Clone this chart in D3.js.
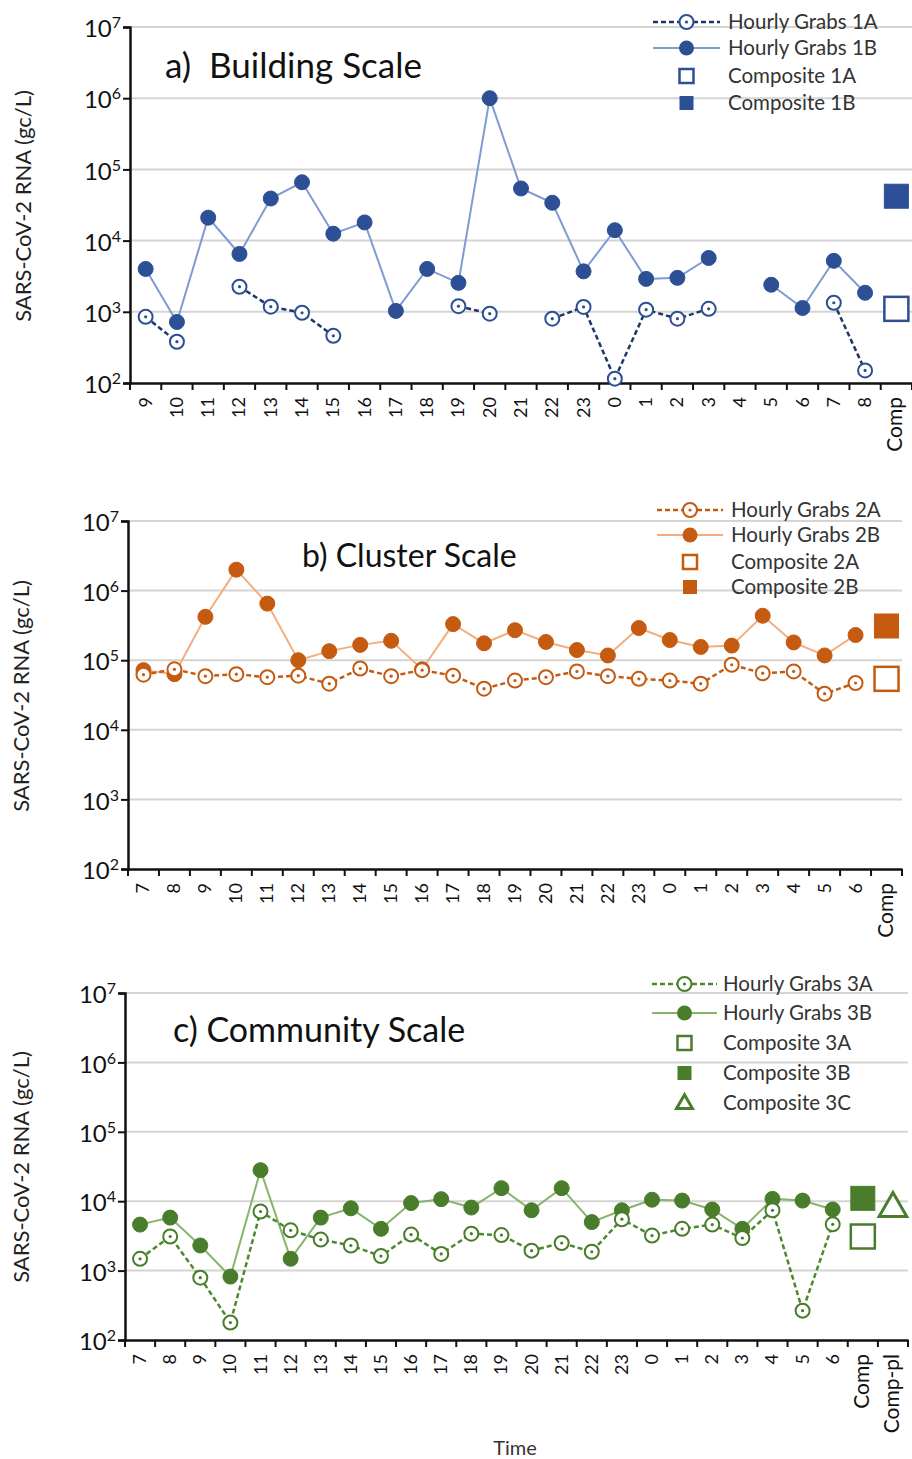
<!DOCTYPE html>
<html><head><meta charset="utf-8">
<script src="https://cdn.jsdelivr.net/npm/d3@7"></script>
<style>
html,body{margin:0;padding:0;background:#fff;}
svg{display:block;font-family:Lato,"Open Sans",sans-serif;}
</style></head>
<body><svg id="chart" width="912" height="1459"></svg>
<script>
// ---------- DATA ----------
const yTicks = [1e2, 1e3, 1e4, 1e5, 1e6, 1e7];

const catsA = ["9","10","11","12","13","14","15","16","17","18","19","20","21","22","23","0","1","2","3","4","5","6","7","8","Comp"];
const grabs1A = [850,380,null,2250,1180,970,460,null,null,null,1200,940,null,800,1170,115,1070,800,1100,null,null,null,1340,150];
const grabs1B = [4000,720,21000,6500,39000,66000,12500,18000,1030,4000,2550,1000000,54000,34000,3700,14000,2900,3000,5700,null,2400,1130,5200,1850];
const comp1A = 1100;
const comp1B = 42000;

const catsB = ["7","8","9","10","11","12","13","14","15","16","17","18","19","20","21","22","23","0","1","2","3","4","5","6","Comp"];
const grabs2A = [62000,74000,59000,63000,57000,60000,46000,76000,59000,72000,60000,39000,51000,57000,69000,59000,54000,51000,46000,86000,65000,69000,33000,47000];
const grabs2B = [72000,63000,420000,2000000,650000,100000,135000,166000,190000,74000,330000,175000,270000,183000,140000,117000,290000,195000,155000,162000,435000,180000,117000,230000];
const comp2A = 54000;
const comp2B = 310000;

const catsC = ["7","8","9","10","11","12","13","14","15","16","17","18","19","20","21","22","23","0","1","2","3","4","5","6","Comp","Comp-pl"];
const grabs3A = [1480,3100,790,178,7100,3800,2800,2300,1620,3300,1740,3400,3250,1940,2500,1870,5500,3200,4000,4600,2950,7400,265,4650];
const grabs3B = [4600,5800,2300,820,28000,1480,5800,7900,4000,9400,10700,8100,15400,7400,15400,5000,7400,10500,10200,7600,4000,10800,10200,7600];
const comp3A = 3100;
const comp3B = 11000;
const comp3C = 8400;

const legendA = ["Hourly Grabs 1A","Hourly Grabs 1B","Composite 1A","Composite 1B"];
const legendB = ["Hourly Grabs 2A","Hourly Grabs 2B","Composite 2A","Composite 2B"];
const legendC = ["Hourly Grabs 3A","Hourly Grabs 3B","Composite 3A","Composite 3B","Composite 3C"];

// ---------- DRAW ----------
const svg = d3.select("#chart");
const FONT = 'Lato,"Open Sans",sans-serif';

function drawPanel(cfg){
  const g = svg.append("g");
  const x = d3.scaleBand().domain(cfg.cats).range([cfg.left, cfg.right]).padding(0);
  const y = d3.scaleLog().domain([1e2,1e7]).range([cfg.bottom, cfg.top]);
  const cx = c => x(c) + x.bandwidth()/2;

  // gridlines
  g.selectAll("line.grid").data(yTicks.slice(1)).join("line")
    .attr("x1", cfg.left).attr("x2", cfg.gridRight)
    .attr("y1", d=>y(d)).attr("y2", d=>y(d))
    .attr("stroke", "#d4d4d4").attr("stroke-width", 2);

  // y axis
  const ya = g.append("g").attr("transform", `translate(${cfg.left},0)`)
    .call(d3.axisLeft(y).tickValues(yTicks).tickSize(7).tickFormat(""));
  ya.select(".domain").attr("stroke","#111").attr("stroke-width",2.5);
  ya.selectAll(".tick line").attr("stroke","#111").attr("stroke-width",2);
  ya.selectAll(".tick").each(function(d){
    const t = d3.select(this).append("text")
      .attr("x", -9).attr("y", 0).attr("dy","0.4em")
      .attr("text-anchor","end").attr("fill","#111")
      .style("font-family", FONT).style("font-size","24px");
    t.append("tspan").text("10");
    t.append("tspan").text(Math.round(Math.log10(d))).attr("dy","-9").style("font-size","16px");
  });

  // x axis
  const xa = g.append("g").attr("transform", `translate(0,${cfg.bottom})`)
    .call(d3.axisBottom(x).tickSize(0).tickFormat(""));
  xa.select(".domain").attr("stroke","#111").attr("stroke-width",2.5);
  const bounds = cfg.cats.map(c=>x(c)).concat([cfg.right]);
  g.selectAll("line.xt").data(bounds).join("line")
    .attr("x1", d=>d).attr("x2", d=>d)
    .attr("y1", cfg.bottom).attr("y2", cfg.bottom+7)
    .attr("stroke","#111").attr("stroke-width",2);
  g.selectAll("text.xl").data(cfg.cats).join("text")
    .attr("transform", d=>`translate(${cx(d)+6},${cfg.bottom+14}) rotate(-90)`)
    .attr("text-anchor","end").attr("fill","#111")
    .style("font-family", FONT).style("font-size", d=> d.length > 2 ? "21px" : "18px")
    .text(d=>d);

  // y axis title
  g.append("text")
    .attr("transform", `translate(${cfg.yTitleX},${cfg.yTitleY}) rotate(-90)`)
    .attr("text-anchor","middle").attr("fill","#222")
    .style("font-family", FONT).style("font-size","22px")
    .text("SARS-CoV-2 RNA (gc/L)");

  // panel title
  g.append("text").attr("x", cfg.titleX).attr("y", cfg.titleY)
    .attr("fill","#111").style("font-family", FONT).style("font-size", cfg.titleSize)
    .attr("xml:space","preserve").style("white-space","pre")
    .text(cfg.title);

  const hourCats = cfg.cats.slice(0, cfg.gA.length);
  const ptsA = cfg.gA.map((v,i)=>({c:hourCats[i], v}));
  const ptsB = cfg.gB.map((v,i)=>({c:hourCats[i], v}));
  const line = d3.line().defined(d=>d.v!=null).x(d=>cx(d.c)).y(d=>y(d.v));

  // B line (solid, light)
  g.append("path").datum(ptsB).attr("d", line)
    .attr("fill","none").attr("stroke", cfg.lightCol).attr("stroke-width", 2);
  // A line (dashed)
  g.append("path").datum(ptsA).attr("d", line)
    .attr("fill","none").attr("stroke", cfg.dashCol).attr("stroke-width", 2.5)
    .attr("stroke-dasharray","5,3");

  // B markers
  g.selectAll("circle.b").data(ptsB.filter(d=>d.v!=null)).join("circle")
    .attr("cx", d=>cx(d.c)).attr("cy", d=>y(d.v)).attr("r", 7.5)
    .attr("fill", cfg.col).attr("stroke", cfg.col).attr("stroke-width", 1);
  // A markers
  const am = g.selectAll("g.a").data(ptsA.filter(d=>d.v!=null)).join("g")
    .attr("transform", d=>`translate(${cx(d.c)},${y(d.v)})`);
  am.append("circle").attr("r", 7).attr("fill","#fff").attr("stroke", cfg.col).attr("stroke-width", 2);
  am.append("circle").attr("r", 1.6).attr("fill", cfg.col);

  // composites
  const sq = 24;
  const compX = cx("Comp");
  g.append("rect").attr("x", compX - sq/2).attr("y", y(cfg.compA) - sq/2)
    .attr("width", sq).attr("height", sq)
    .attr("fill","#fff").attr("stroke", cfg.col).attr("stroke-width", 2.5);
  g.append("rect").attr("x", compX - sq/2).attr("y", y(cfg.compB) - sq/2)
    .attr("width", sq).attr("height", sq)
    .attr("fill", cfg.col).attr("stroke", cfg.col).attr("stroke-width", 1);
  if (cfg.compC != null){
    const tx = cx("Comp-pl"), ty = y(cfg.compC);
    g.append("path").attr("d", d3.symbol(d3.symbolTriangle, 330)())
      .attr("transform", `translate(${tx},${ty+2})`)
      .attr("fill","#fff").attr("stroke", cfg.col).attr("stroke-width", 3);
  }

  // legend
  const lg = g.append("g");
  cfg.legend.forEach((lab, i) => {
    const ly = cfg.legY[i];
    const mx = (cfg.legX0 + cfg.legX1)/2;
    if (i === 0){
      lg.append("line").attr("x1", cfg.legX0).attr("x2", cfg.legX1).attr("y1", ly).attr("y2", ly)
        .attr("stroke", cfg.dashCol).attr("stroke-width", 2.5).attr("stroke-dasharray","5,3");
      lg.append("circle").attr("cx", mx).attr("cy", ly).attr("r", 7).attr("fill","#fff")
        .attr("stroke", cfg.col).attr("stroke-width", 2);
      lg.append("circle").attr("cx", mx).attr("cy", ly).attr("r", 1.6).attr("fill", cfg.col);
    } else if (i === 1){
      lg.append("line").attr("x1", cfg.legX0).attr("x2", cfg.legX1).attr("y1", ly).attr("y2", ly)
        .attr("stroke", cfg.lightCol).attr("stroke-width", 2);
      lg.append("circle").attr("cx", mx).attr("cy", ly).attr("r", 7.5).attr("fill", cfg.col);
    } else if (i === 2){
      lg.append("rect").attr("x", mx-7).attr("y", ly-7).attr("width",14).attr("height",14)
        .attr("fill","#fff").attr("stroke", cfg.col).attr("stroke-width", 2.5);
    } else if (i === 3){
      lg.append("rect").attr("x", mx-7).attr("y", ly-7).attr("width",14).attr("height",14)
        .attr("fill", cfg.col);
    } else {
      lg.append("path").attr("d", d3.symbol(d3.symbolTriangle, 110)())
        .attr("transform", `translate(${mx},${ly+1})`)
        .attr("fill","#fff").attr("stroke", cfg.col).attr("stroke-width", 3);
    }
    lg.append("text").attr("x", cfg.legTextX).attr("y", ly).attr("dy","0.35em")
      .attr("fill","#333").style("font-family", FONT).style("font-size","20.5px")
      .text(lab);
  });
}

drawPanel({
  cats: catsA, gA: grabs1A, gB: grabs1B, compA: comp1A, compB: comp1B,
  left:130, right:912, gridRight:912, top:27, bottom:383,
  col:"#2c4f95", lightCol:"#7e9bd2", dashCol:"#1f3766",
  title:"a)  Building Scale", titleX:165, titleY:78, titleSize:"35px",
  yTitleX:31, yTitleY:206,
  legend: legendA, legY:[22,48,76,103], legX0:653, legX1:720, legTextX:728
});

drawPanel({
  cats: catsB, gA: grabs2A, gB: grabs2B, compA: comp2A, compB: comp2B,
  left:128, right:902, gridRight:902, top:521, bottom:869,
  col:"#c55a11", lightCol:"#f4ae7d", dashCol:"#c55a11",
  title:"b) Cluster Scale", titleX:302, titleY:567, titleSize:"32px",
  yTitleX:29, yTitleY:696,
  legend: legendB, legY:[510,535,562,587], legX0:657, legX1:723, legTextX:731
});

drawPanel({
  cats: catsC, gA: grabs3A, gB: grabs3B, compA: comp3A, compB: comp3B, compC: comp3C,
  left:125, right:908, gridRight:908, top:993, bottom:1340,
  col:"#4a7d2b", lightCol:"#86b46a", dashCol:"#4a8a2b",
  title:"c) Community Scale", titleX:173, titleY:1042, titleSize:"34px",
  yTitleX:29, yTitleY:1167,
  legend: legendC, legY:[984,1013,1043,1073,1103], legX0:652, legX1:717, legTextX:723
});

svg.append("text").attr("x", 515).attr("y", 1455).attr("text-anchor","middle")
  .attr("fill","#333").style("font-family", FONT).style("font-size","20px").text("Time");
</script>
</body></html>
